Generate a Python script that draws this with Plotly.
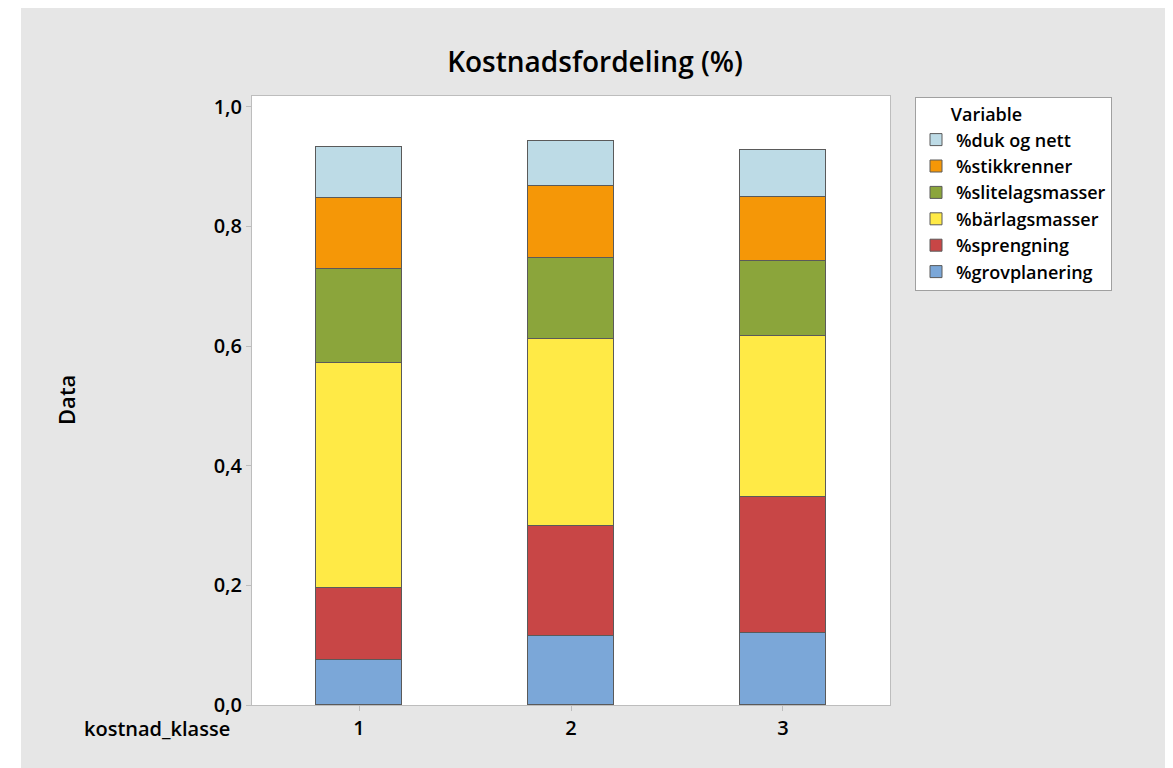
import plotly.graph_objects as go

categories = [1, 2, 3]
series_names = ["%grovplanering", "%sprengning", "%bärlagsmasser",
                "%slitelagsmasser", "%stikkrenner", "%duk og nett"]
grovplanering = [0.075, 0.115, 0.120]
sprengning = [0.120, 0.185, 0.228]
barlagsmasser = [0.376, 0.312, 0.269]
slitelagsmasser = [0.158, 0.136, 0.125]
stikkrenner = [0.118, 0.120, 0.107]
duk_og_nett = [0.085, 0.074, 0.078]
series_values = [grovplanering, sprengning, barlagsmasser,
                 slitelagsmasser, stikkrenner, duk_og_nett]
colors = ["#7BA7D8", "#C84646", "#FFEA46", "#8BA53B", "#F59707", "#BDDBE6"]
y_ticks = [0.0, 0.2, 0.4, 0.6, 0.8, 1.0]

FONT = "Open Sans"
OFF = 8  # page body margin offset

W, H = 1158, 760
PL, PR, PT, PB = 252 - OFF, 890 - OFF, 96 - OFF, 705 - OFF


def px_x(p):
    return (p - OFF - PL) / (PR - PL)


def px_y(p):
    return (PB - (p - OFF)) / (PB - PT)


fig = go.Figure()
for name, vals, col in zip(series_names, series_values, colors):
    fig.add_trace(go.Bar(
        x=categories, y=vals, name=name, width=0.406,
        marker=dict(color=col, line=dict(color="#5A5A5A", width=1)),
    ))

fig.update_layout(
    width=W, height=H,
    barmode="stack",
    separators=", ",
    paper_bgcolor="#E6E6E6",
    plot_bgcolor="white",
    margin=dict(l=PL, r=W - PR, t=PT, b=H - PB),
    font=dict(family=FONT, color="black", size=20, weight=600),
    title=dict(text="Kostnadsfordeling (%)", x=(595 - OFF) / W, xanchor="center",
               y=1 - (62 - OFF) / H, yanchor="middle",
               font=dict(size=28, family=FONT, weight=600)),
    xaxis=dict(range=[0.495, 3.505], tickvals=categories,
               ticktext=[str(c) for c in categories],
               showgrid=False, zeroline=False,
               showline=True, mirror=True, linecolor="#BDBDBD", linewidth=1,
               ticks="outside", ticklen=5, tickcolor="#BDBDBD",
               tickfont=dict(size=20, family=FONT, weight=600)),
    yaxis=dict(range=[0, 1.018], tickvals=y_ticks, tickformat=".1f",
               showgrid=False, zeroline=False,
               showline=True, mirror=True, linecolor="#BDBDBD", linewidth=1,
               ticks="outside", ticklen=5, tickcolor="#BDBDBD",
               tickfont=dict(size=20, family=FONT, weight=600)),
    legend=dict(x=px_x(915), xanchor="left", y=px_y(97), yanchor="top",
                traceorder="reversed", bgcolor="white",
                bordercolor="#A0A0A0", borderwidth=1,
                font=dict(size=18, family=FONT, weight=600),
                title=dict(text="\u00a0" * 7 + "Variable",
                           font=dict(size=18, family=FONT, weight=600))),
    bargap=0,
)

fig.add_annotation(text="kostnad_klasse", xref="paper", yref="paper",
                   x=px_x(232), xanchor="right",
                   y=px_y(728), yanchor="middle",
                   showarrow=False,
                   font=dict(size=20, family=FONT, weight=600))

fig.add_annotation(text="Data", xref="paper", yref="paper",
                   x=px_x(66), xanchor="center",
                   y=px_y(400), yanchor="middle", textangle=-90,
                   showarrow=False,
                   font=dict(size=22, family=FONT, weight=600))

# white strip left of the grey panel
fig.add_shape(type="rect", xref="paper", yref="paper",
              x0=px_x(OFF), x1=px_x(21), y0=px_y(OFF + H), y1=px_y(OFF),
              fillcolor="white", line=dict(width=0), layer="below")

fig.write_html("out.html")
